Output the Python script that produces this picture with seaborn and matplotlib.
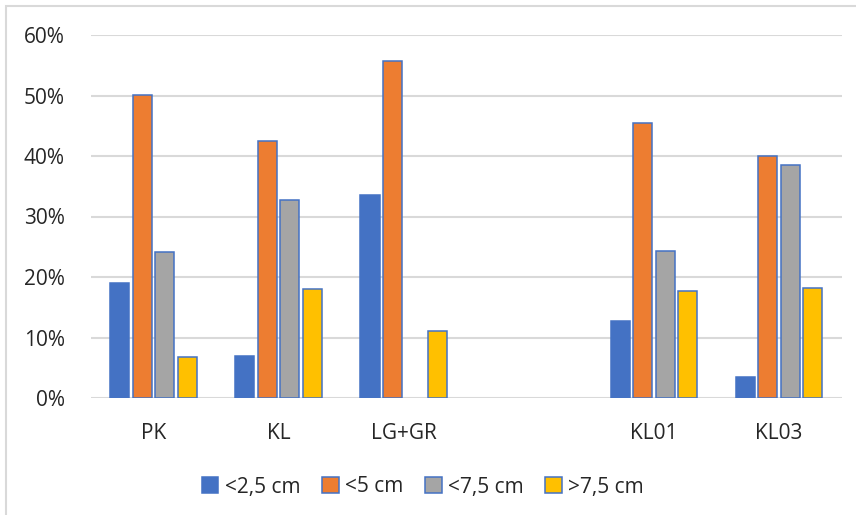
import numpy as np
import pandas as pd
import matplotlib
matplotlib.use("Agg")
import matplotlib.pyplot as plt
from matplotlib.patches import Rectangle
import seaborn as sns

# Sites (an empty slot separates the two site groups)
categories = ["PK", "KL", "LG+GR", "", "KL01", "KL03"]
size_classes = ["<2,5 cm", "<5 cm", "<7,5 cm", ">7,5 cm"]

# Share of each size class per site (fractions)
sites = ["PK", "KL", "LG+GR", "KL01", "KL03"]
share_lt_2_5 = [0.190, 0.070, 0.335, 0.127, 0.035]
share_lt_5 = [0.501, 0.424, 0.557, 0.455, 0.400]
share_lt_7_5 = [0.242, 0.327, np.nan, 0.243, 0.385]
share_gt_7_5 = [0.067, 0.180, 0.110, 0.177, 0.182]

colors = ["#4472C4", "#ED7D31", "#A5A5A5", "#FFC000"]
edge = "#4472C4"
grid_col = "#D9D9D9"
text_col = "#262626"

rows = []
for cls, vals in zip(size_classes,
                     [share_lt_2_5, share_lt_5, share_lt_7_5, share_gt_7_5]):
    for site, v in zip(sites, vals):
        rows.append({"site": site, "size": cls, "share": v})
df = pd.DataFrame(rows)

sns.set_theme(style="white")
plt.rcParams["font.family"] = ["Open Sans", "DejaVu Sans"]

fig = plt.figure(figsize=(8.56, 5.15), dpi=100)
ax = fig.add_axes([91 / 856, 1 - 398 / 515, (841.5 - 91) / 856, (398 - 35) / 515])

sns.barplot(data=df, x="site", y="share", hue="size", order=categories,
            hue_order=size_classes, palette=colors, saturation=1,
            width=0.72, gap=0.15, edgecolor=edge, linewidth=1.1,
            errorbar=None, ax=ax, legend=True)

ax.set_ylim(0, 0.6)
ax.set_xlim(-0.5, len(categories) - 0.5)
yt = np.arange(0, 0.61, 0.1)
ax.set_yticks(yt)
ax.set_yticklabels([f"{int(round(t * 100))}%" for t in yt])
ax.yaxis.grid(True, color=grid_col, linewidth=1.5)
ax.set_axisbelow(True)
for s in ["top", "right", "left", "bottom"]:
    ax.spines[s].set_visible(False)
ax.set_xlabel("")
ax.set_ylabel("")
ax.tick_params(axis="y", length=0, pad=19, labelsize=15, labelcolor=text_col)
ax.tick_params(axis="x", length=0, pad=18, labelsize=15, labelcolor=text_col)

handles, labels = ax.get_legend_handles_labels()
ax.legend_.remove()
fig.legend(handles, labels, loc="center", bbox_to_anchor=(0.494, 1 - 487 / 515),
           ncol=4, frameon=False, fontsize=15, handlelength=0.8,
           handleheight=0.8, handletextpad=0.3, columnspacing=1.05,
           labelcolor=text_col)

# Chart frame
fig.add_artist(Rectangle((6 / 856, -0.1), 2.0, 1.1 - 6 / 515,
                         transform=fig.transFigure, fill=False,
                         edgecolor=grid_col, linewidth=1.5))

fig.savefig("out.png", dpi=100, facecolor="white")
